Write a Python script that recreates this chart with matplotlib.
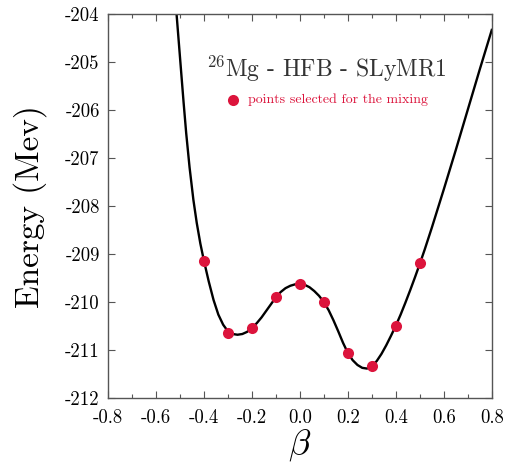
import numpy as np
import matplotlib
matplotlib.use("Agg")
import matplotlib.pyplot as plt

plt.rcParams["font.family"] = ["cmr10", "DejaVu Serif"]
plt.rcParams["mathtext.fontset"] = "cm"
plt.rcParams["axes.unicode_minus"] = False
plt.rcParams["axes.formatter.use_mathtext"] = True

# HFB energy curve (sampled along the deformation)
curve_beta = [-0.525, -0.517, -0.507, -0.496, -0.485, -0.474, -0.460, -0.444,
              -0.430, -0.415, -0.400, -0.380, -0.360, -0.340, -0.320, -0.300,
              -0.280, -0.260, -0.240, -0.220, -0.200, -0.180, -0.160, -0.140,
              -0.120, -0.100, -0.080, -0.060, -0.040, -0.020, 0.000, 0.020,
              0.040, 0.060, 0.080, 0.100, 0.120, 0.140, 0.160, 0.180,
              0.200, 0.220, 0.240, 0.260, 0.280, 0.300, 0.320, 0.340,
              0.360, 0.380, 0.400, 0.420, 0.440, 0.460, 0.480, 0.500,
              0.520, 0.550, 0.600, 0.650, 0.700, 0.750, 0.800]
curve_energy = [-203.32, -203.82, -204.45, -205.14, -205.83, -206.48, -207.19, -207.87,
                -208.35, -208.78, -209.14, -209.57, -209.955, -210.26, -210.47, -210.61,
                -210.665, -210.68, -210.665, -210.62, -210.535, -210.44, -210.32, -210.18,
                -210.04, -209.90, -209.79, -209.71, -209.66, -209.63, -209.625, -209.64,
                -209.69, -209.77, -209.87, -210.00, -210.17, -210.38, -210.61, -210.85,
                -211.06, -211.21, -211.31, -211.37, -211.385, -211.33, -211.23, -211.08,
                -210.90, -210.70, -210.49, -210.26, -210.01, -209.75, -209.48, -209.20,
                -208.91, -208.45, -207.65, -206.83, -205.99, -205.15, -204.33]

# configurations picked for the GCM mixing
mix_beta = [-0.4, -0.3, -0.2, -0.1, 0.0, 0.1, 0.2, 0.3, 0.4, 0.5]
mix_energy = [-209.14, -210.64, -210.535, -209.90, -209.625, -210.00,
              -211.06, -211.33, -210.49, -209.19]

xticks = [-0.8, -0.6, -0.4, -0.2, 0.0, 0.2, 0.4, 0.6, 0.8]
xticklabels = ["-0.8", "-0.6", "-0.4", "-0.2", "0.0", "0.2", "0.4", "0.6", "0.8"]
yticks = [-212, -211, -210, -209, -208, -207, -206, -205, -204]
yticklabels = ["-212", "-211", "-210", "-209", "-208", "-207", "-206", "-205", "-204"]

red = "#dc143c"

fig = plt.figure(figsize=(5.07, 4.70), dpi=100)
ax = fig.add_axes([0.213, 0.153, 0.757, 0.817])

ax.plot(curve_beta, curve_energy, "-", color="black", lw=1.7, zorder=2,
        solid_joinstyle="round")
ax.plot(mix_beta, mix_energy, "o", color=red, ms=8, mec="none", zorder=3)

ax.set_xlim(-0.8, 0.8)
ax.set_ylim(-212, -204)
ax.set_xticks(xticks)
ax.set_xticklabels(xticklabels)
ax.set_xticks(np.arange(-0.7, 0.8, 0.2), minor=True)
ax.set_yticks(yticks)
ax.set_yticklabels(yticklabels)
ax.tick_params(which="both", direction="in", top=True, right=True,
               labelsize=13.5, color="#555555")
ax.tick_params(axis="x", pad=8)
ax.tick_params(axis="y", pad=6)
ax.tick_params(which="major", length=5, width=0.8)
ax.tick_params(which="minor", length=3, width=0.8)
for s in ax.spines.values():
    s.set_color("#555555")
    s.set_linewidth(1.0)

ax.set_xlabel(r"$\beta$", fontsize=26, labelpad=0)
ax.set_ylabel("Energy (Mev)", fontsize=24, labelpad=13)

ax.text(0.11, -205.31, r"$^{26}$Mg - HFB - SLyMR1", fontsize=17,
        color="#333333", ha="center", va="baseline")
ax.plot([-0.278], [-205.79], "o", color=red, ms=8, mec="none")
ax.text(-0.215, -205.79, "points selected for the mixing", fontsize=10,
        color=red, ha="left", va="center")

fig.savefig("out.png", dpi=100)
